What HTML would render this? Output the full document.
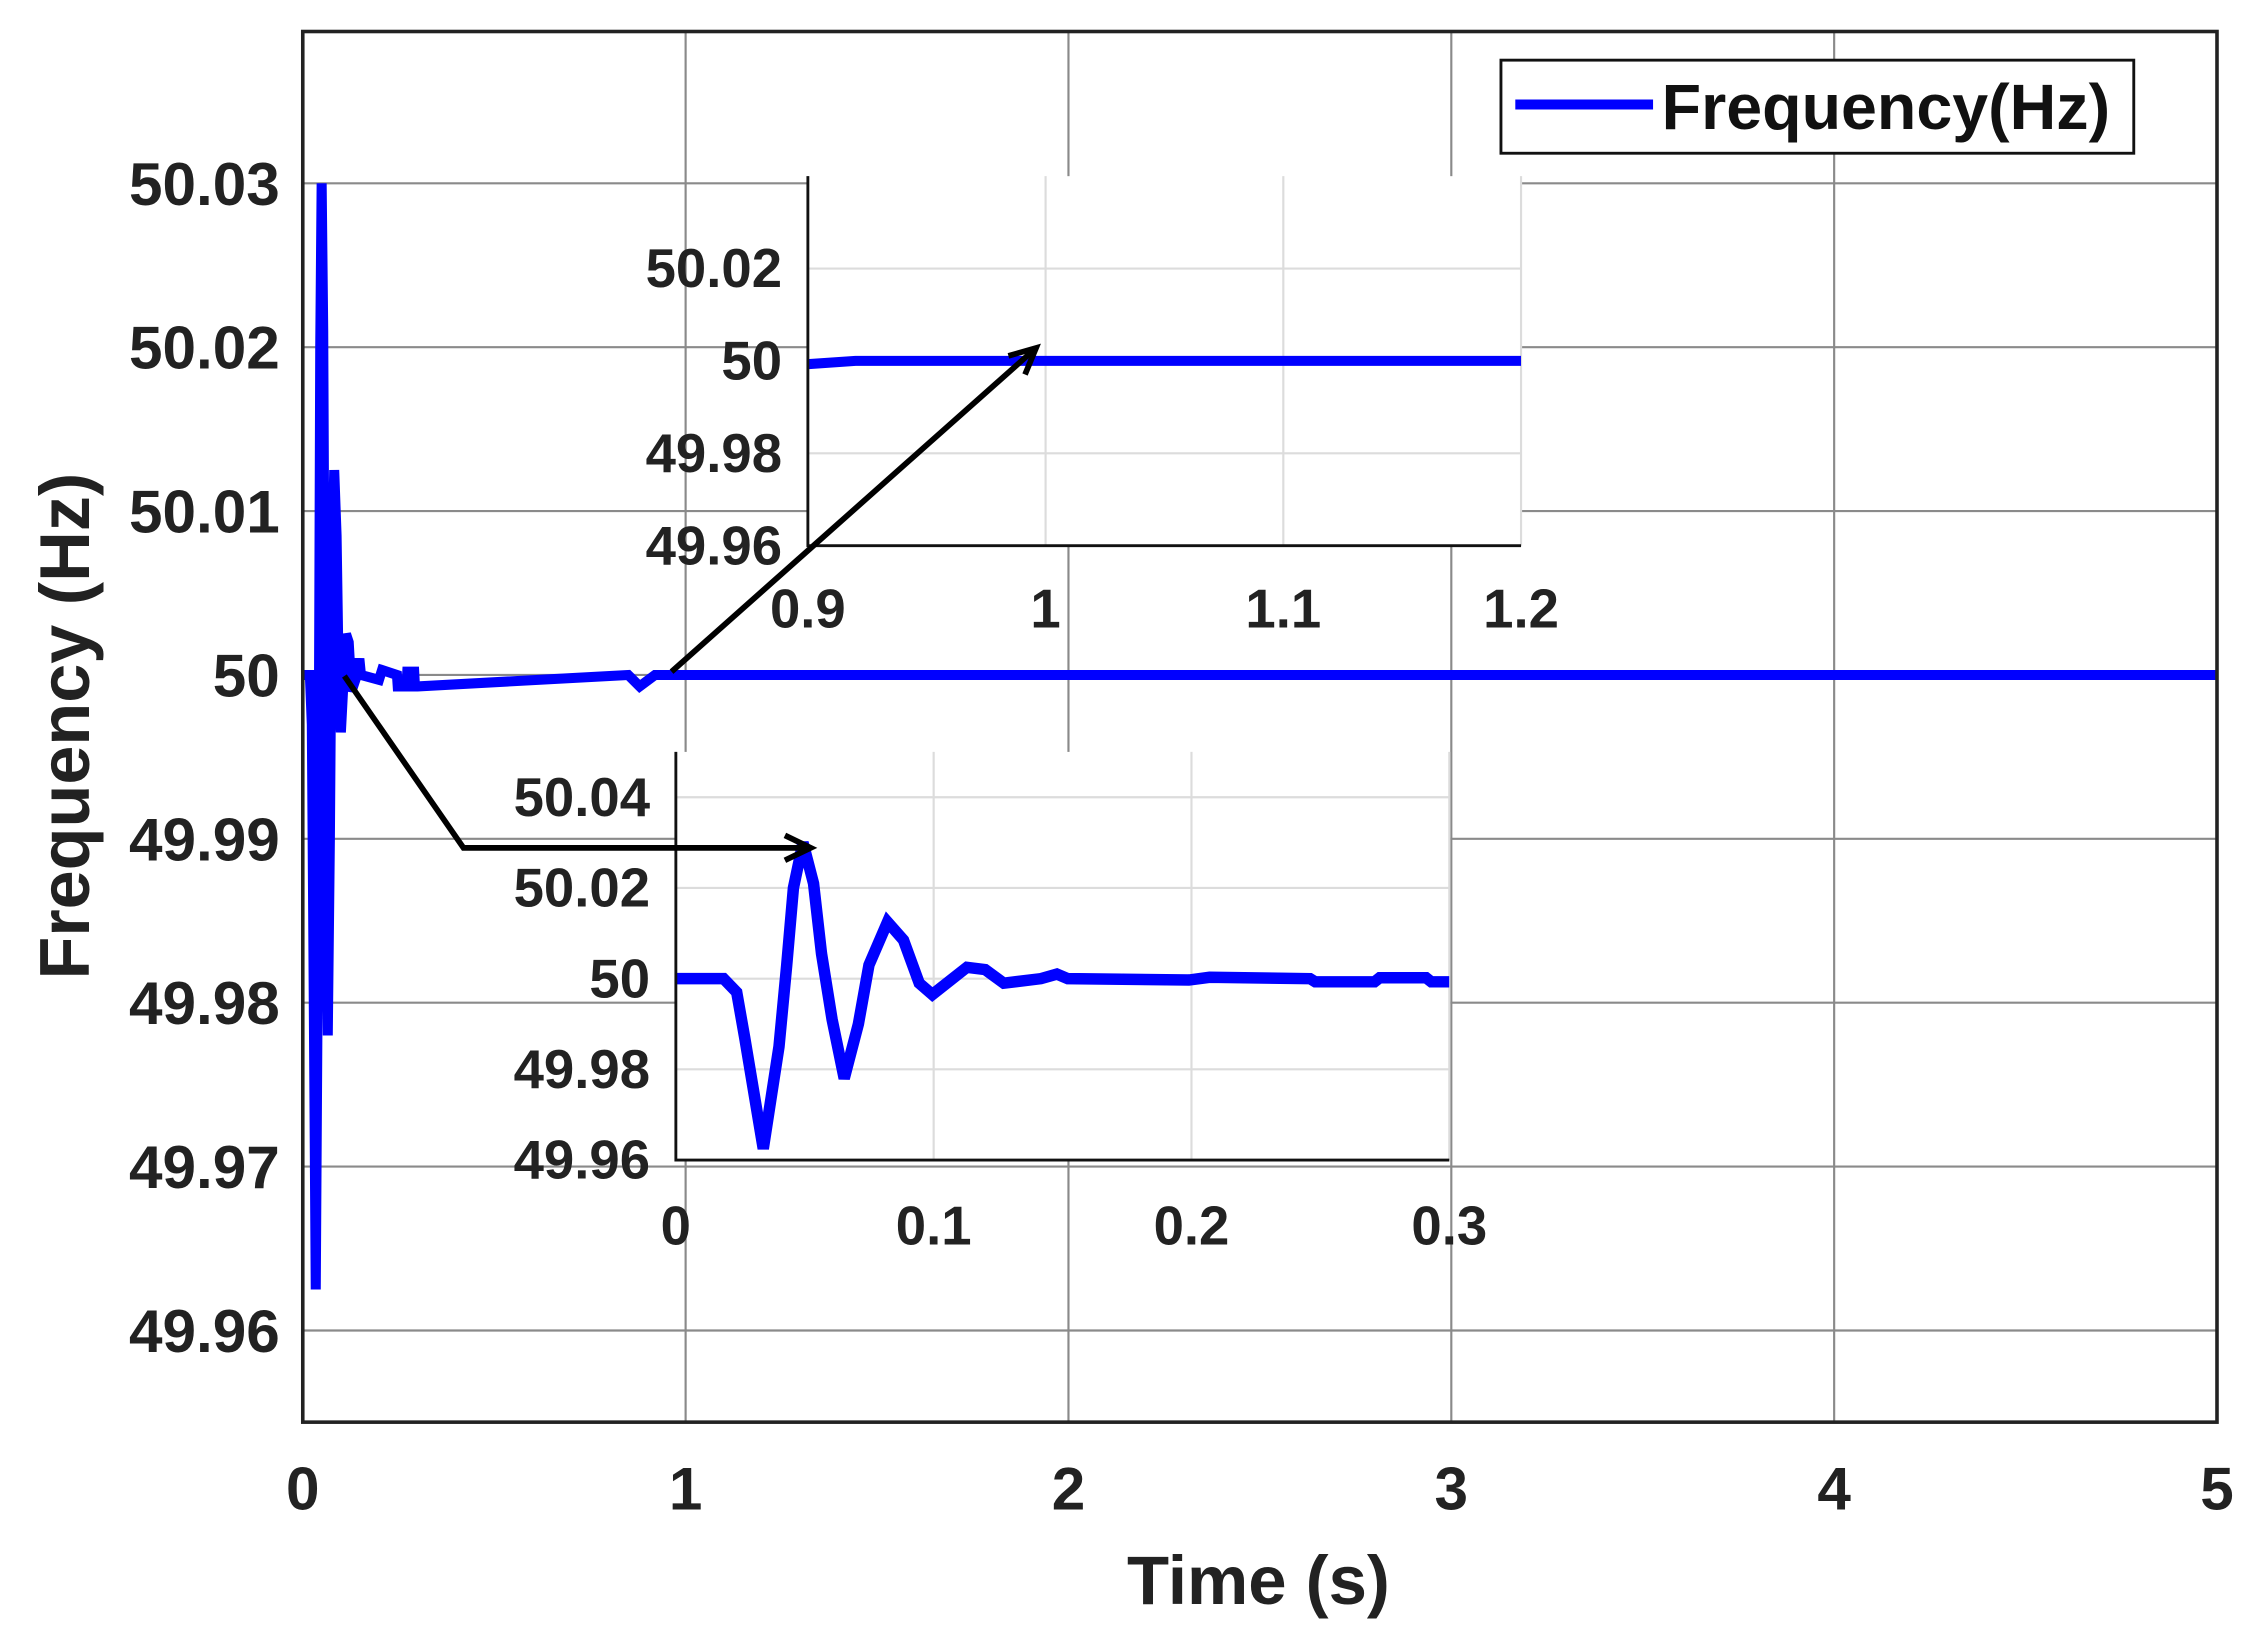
<!DOCTYPE html>
<html><head><meta charset="utf-8"><style>
html,body{margin:0;padding:0;background:#fff;}
svg{display:block;font-family:"Liberation Sans",Arial,sans-serif;font-weight:bold;}
</style></head><body>
<svg id="chart" width="2250" height="1647" viewBox="0 0 1568 1150" preserveAspectRatio="none" xmlns="http://www.w3.org/2000/svg"></svg>
<script>
// ---- data ----
const transientT = [0,0.0185,0.0236,0.0267,0.0339,0.040,0.043,0.0456,0.0493,0.0534,0.0565,0.0606,0.0653,0.0708,0.0749,0.0821,0.0883,0.0944,0.0995,0.1129,0.120,0.1272,0.1416,0.1478,0.152,0.199,0.207,0.246,0.248,0.271,0.273,0.291,0.293,0.3];
const transientF = [50,50,49.997,49.987,49.9625,49.985,50.003,50.020,50.030,50.021,50.0055,49.991,49.978,49.990,50.003,50.0125,50.0085,49.999,49.9965,50.0025,50.002,49.999,50.000,50.001,50,49.9997,50.0003,50,49.9993,49.9993,50.0002,50.0002,49.9993,49.9993];
const laterT = [0.85,0.88,0.92,1.2,5];
const laterF = [50,49.9993,50,50,50];
const mainXTicks = [0,1,2,3,4,5];
const mainYTicks = [49.96,49.97,49.98,49.99,50,50.01,50.02,50.03];
const mainYLabels = ["49.96","49.97","49.98","49.99","50","50.01","50.02","50.03"];
const zoom1XTicks = [0.9,1,1.1,1.2];
const zoom1YTicks = [49.96,49.98,50,50.02];
const zoom1YLabels = ["49.96","49.98","50","50.02"];
const zoom2XTicks = [0,0.1,0.2,0.3];
const zoom2YTicks = [49.96,49.98,50,50.02,50.04];
const zoom2YLabels = ["49.96","49.98","50","50.02","50.04"];

const svg = document.getElementById('chart');
const NS = 'http://www.w3.org/2000/svg';
function mk(tag, attrs, parent){const e=document.createElementNS(NS,tag);for(const k in attrs)e.setAttribute(k,attrs[k]);(parent||svg).appendChild(e);return e;}
function scale(d0,d1,r0,r1){return v=>r0+(v-d0)/(d1-d0)*(r1-r0);}

const L=211,R=1545,T=22,B=993;
const mx=scale(0,5,L,R), my=scale(49.96,50.03,929,128);
const allT = transientT.concat(laterT), allF = transientF.concat(laterF);

mk('rect',{x:0,y:0,width:1568,height:1150,fill:'#fff'});
mainXTicks.forEach(v=>{
  const g=mk('line',{x1:mx(v),x2:mx(v),y1:T,y2:B,stroke:'#8a8a8a','stroke-width':1.5});
  
  
  const t=mk('text',{x:mx(v),y:1054,'font-size':42,'text-anchor':'middle',fill:'#222'});
  t.textContent=v;
  
  
});
mainYTicks.forEach((v,i)=>{
  const g=mk('line',{x1:L,x2:R,y1:my(v),y2:my(v),stroke:'#8a8a8a','stroke-width':1.5});
  
  
  const t=mk('text',{x:195,y:my(v)+15,'font-size':42,'text-anchor':'end',fill:'#222'});
  t.textContent=mainYLabels[i];
  
  
});
const mainLine=mk('polyline',{points:allT.map((t,i)=>mx(t)+','+my(allF[i])).join(' '),fill:'none',stroke:'#0000ff','stroke-width':7,'stroke-linejoin':'miter','stroke-miterlimit':2});


const box=mk('rect',{x:L,y:T,width:R-L,height:B-T,fill:'none',stroke:'#222','stroke-width':2.5});



const xt=mk('text',{x:877,y:1120,'font-size':48,'text-anchor':'middle',fill:'#222'});
xt.textContent='Time (s)';


const yt=mk('text',{x:0,y:0,'font-size':49,'text-anchor':'middle',fill:'#222',transform:'translate(62,507) rotate(-90)'});
yt.textContent='Frequency (Hz)';



const lg=mk('rect',{x:1046,y:42,width:441,height:65,fill:'#fff',stroke:'#111','stroke-width':2});


const ll=mk('line',{x1:1056,x2:1152,y1:73,y2:73,stroke:'#0000ff','stroke-width':7});


const lt=mk('text',{x:1158,y:90,'font-size':45,fill:'#111'});
lt.textContent='Frequency(Hz)';



function inset(name,x0,x1,y0,y1,xd0,xd1,yd0,yd1,xt,yt,ylab,xlabY,lw){
  const ix=scale(xd0,xd1,x0,x1), iy=scale(yd0,yd1,y1,y0);
  const bg=mk('rect',{x:x0,y:y0,width:x1-x0,height:y1-y0,fill:'#fff'});
  
  
  xt.forEach(v=>{
    const g=mk('line',{x1:ix(v),x2:ix(v),y1:y0,y2:y1,stroke:'#dcdcdc','stroke-width':1.5});
    
    
    const t=mk('text',{x:ix(v),y:xlabY,'font-size':38,'text-anchor':'middle',fill:'#222'});
    t.textContent=v;
    
    
  });
  yt.forEach((v,i)=>{
    const g=mk('line',{x1:x0,x2:x1,y1:iy(v),y2:iy(v),stroke:'#dcdcdc','stroke-width':1.5});
    
    
    const t=mk('text',{x:x0-18,y:iy(v)+13,'font-size':38,'text-anchor':'end',fill:'#222'});
    t.textContent=ylab[i];
    
    
  });
  const pts=[];
  allT.forEach((t,i)=>{ if(t>=xd0-0.05 && t<=xd1+0.05) pts.push(ix(Math.min(Math.max(t,xd0),xd1))+','+iy(allF[i])); });
  const cp=mk('clipPath',{id:name+'-clip'});
  mk('rect',{x:x0,y:y0,width:x1-x0,height:y1-y0},cp);
  const pl=mk('polyline',{points:pts.join(' '),fill:'none',stroke:'#0000ff','stroke-width':lw,'clip-path':'url(#'+name+'-clip)'});
  
  
  const ax=mk('path',{d:`M${x0},${y0}V${y1}H${x1}`,fill:'none',stroke:'#111','stroke-width':2});
  
  
}
inset('zoom-inset-1',563,1060,123,381,0.9,1.2,49.96,50.04,zoom1XTicks,zoom1YTicks,zoom1YLabels,438,7);
inset('zoom-inset-2',471,1010,525,810,0,0.3,49.96,50.05,zoom2XTicks,zoom2YTicks,zoom2YLabels,869,8);

function arrowHead(x,y,ang,name){
  const a=20,w=0.45;
  const p=`M${x-a*Math.cos(ang-w)},${y-a*Math.sin(ang-w)} L${x},${y} L${x-a*Math.cos(ang+w)},${y-a*Math.sin(ang+w)}`;
  const h=mk('path',{d:p,fill:'none',stroke:'#000','stroke-width':4});
  
  
}
const a1=mk('line',{x1:468,y1:469,x2:722,y2:243,stroke:'#000','stroke-width':4});


arrowHead(722,243,Math.atan2(243-469,722-468),'zoom-arrow-1-head');
const a2=mk('polyline',{points:'240,472 323,592 565,592',fill:'none',stroke:'#000','stroke-width':4});


arrowHead(565,592,0,'zoom-arrow-2-head');
</script>
</body></html>
